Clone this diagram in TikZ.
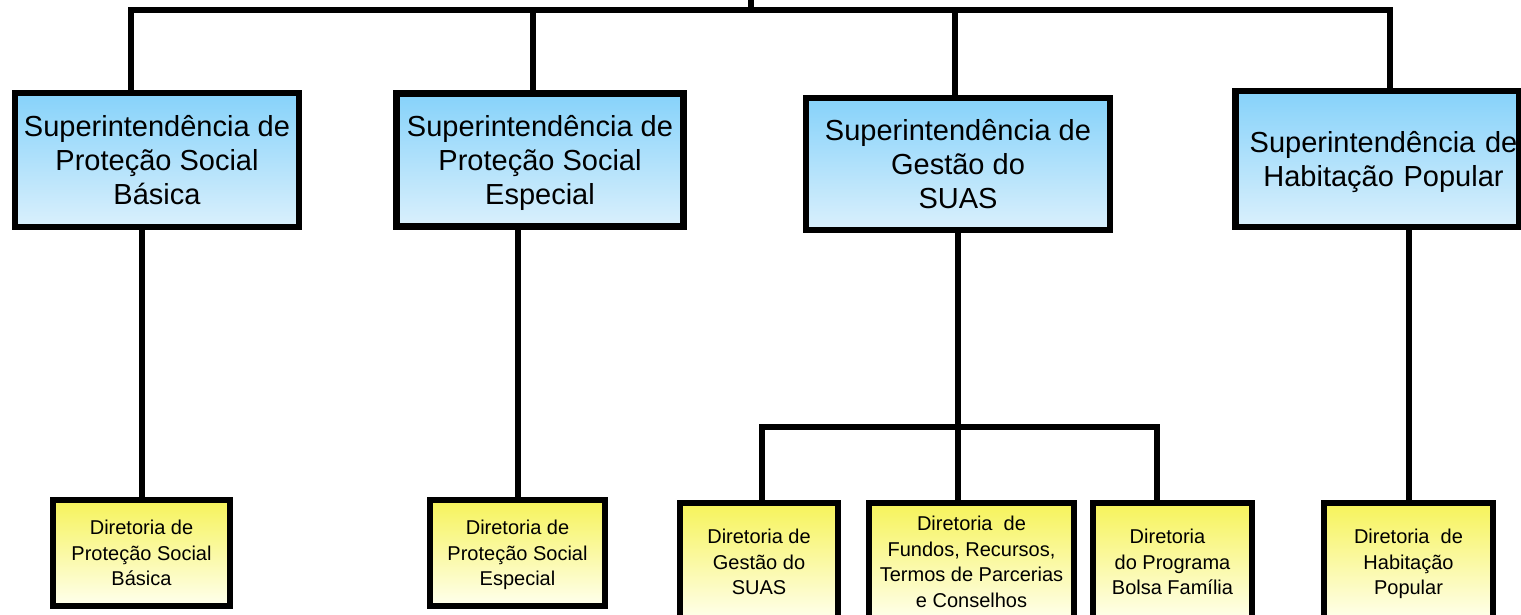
\documentclass[tikz,border=0pt]{standalone}
\usepackage{fontspec}
\setmainfont{Liberation Sans}
\definecolor{bluetop}{HTML}{86D2FA}
\definecolor{bluebot}{HTML}{DAF0FC}
\definecolor{yeltop}{HTML}{F6F35A}
\definecolor{yelbot}{HTML}{FFFFEE}
\begin{document}
\begin{tikzpicture}[x=1pt, y=-1pt,
        superbox/.style={draw=black, line width=6.5pt, top color=bluetop, bottom color=bluebot,
            align=center, inner sep=0pt, font=\fontsize{29}{34}\selectfont},
        dirbox/.style={draw=black, line width=6.5pt, top color=yeltop, bottom color=yelbot,
            align=center, inner sep=0pt, font=\fontsize{20}{25.5}\selectfont},
        link/.style={black, line width=6pt}]
        \useasboundingbox (0,0) rectangle (1521,614);

        \node[superbox, minimum width=284pt, minimum height=134pt] (sb) at (157,160) {Superintendência de\\Proteção Social\\Básica};
        \node[superbox, minimum width=287pt, minimum height=133pt] (se) at (540,160) {Superintendência de\\Proteção Social\\\smash{Especial}};
        \node[superbox, minimum width=304pt, minimum height=132pt] (sg) at (958,164) {Superintendência de\\Gestão do\\SUAS};
        \node[superbox, minimum width=284pt, minimum height=136pt, text width=284pt] (sh) at (1377.5,159) {\hspace*{12pt}Superintendência de\\\hspace*{12pt}\smash{Habitação Popular}};

        \node[dirbox, minimum width=177pt, minimum height=106pt] (db) at (141.5,553) {Diretoria de\\Proteção Social\\Básica};
        \node[dirbox, minimum width=175pt, minimum height=106pt] (de) at (517.5,553) {Diretoria de\\Proteção Social\\\smash{Especial}};
        \node[dirbox, minimum width=158pt, minimum height=118pt] (dg) at (759,562) {Diretoria de\\Gestão do\\SUAS};
        \node[dirbox, minimum width=205pt, minimum height=118pt] (df) at (971.5,562) {Diretoria\ \ de\\Fundos, Recursos,\\Termos de Parcerias\\e Conselhos};
        \node[dirbox, minimum width=159pt, minimum height=118pt] (dp) at (1172.5,562) {Diretoria\hspace*{10pt}\\do Programa\\Bolsa Família};
        \node[dirbox, minimum width=169pt, minimum height=118pt] (dh) at (1408.5,562) {Diretoria\ \ de\\Habitação\\\smash{Popular}};

        \coordinate (top) at (751,0);
        \coordinate (t1) at (131,10);
        \coordinate (t2) at (533,10);
        \coordinate (t3) at (955,10);
        \coordinate (t4) at (1390,10);
        \coordinate (s1) at (762,427);
        \coordinate (s3) at (1157,427);

        \draw[link] (top) -- (top |- t1);
        \draw[link, line cap=rect] (t1) -- (t4);
        \draw[link] (t1) -- (t1 |- sb.north);
        \draw[link] (t2) -- (t2 |- se.north);
        \draw[link] (t3) -- (t3 |- sg.north);
        \draw[link] (t4) -- (t4 |- sh.north);

        \draw[link] (db.north) -- (db.north |- sb.south);
        \draw[link] (de.north) -- (de.north |- se.south);
        \draw[link] (dh.north) -- (dh.north |- sh.south);

        \draw[link] (sg.south) -- (sg.south |- df.north);
        \draw[link, line cap=rect] (s1) -- (s3);
        \draw[link] (s1) -- (s1 |- dg.north);
        \draw[link] (s3) -- (s3 |- dp.north);
    \end{tikzpicture}
\end{document}
